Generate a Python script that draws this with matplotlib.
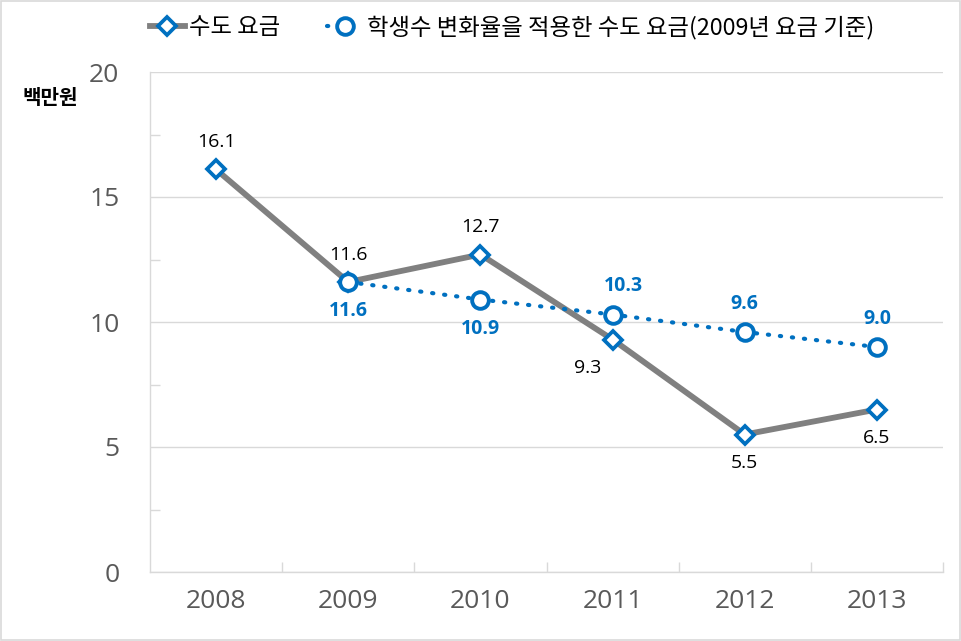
import matplotlib
matplotlib.use('Agg')
import matplotlib.pyplot as plt
from matplotlib.ticker import FixedLocator
from matplotlib.patches import Rectangle

plt.rcParams['font.family'] = ['Noto Sans CJK KR', 'DejaVu Sans']

# 데이터
years = ['2008', '2009', '2010', '2011', '2012', '2013']
water_fee = [16.1, 11.6, 12.7, 9.3, 5.5, 6.5]
adj_years = ['2009', '2010', '2011', '2012', '2013']
adj_fee = [11.6, 10.9, 10.3, 9.6, 9.0]

label1 = '수도 요금'
label2 = '학생수 변화율을 적용한 수도 요금(2009년 요금 기준)'

blue = '#0070C0'
gray = '#808080'
grid_c = '#D9D9D9'
tick_c = '#595959'
num_font = ['Open Sans', 'DejaVu Sans']

fig = plt.figure(figsize=(9.61, 6.41), dpi=100)
ax = fig.add_axes([150/961, 1-572/641, 793/961, 500/641])

x1 = [years.index(y) for y in years]
x2 = [years.index(y) for y in adj_years]

l1, = ax.plot(x1, water_fee, color=gray, lw=4.2, marker='D', ms=9.5,
              mfc='white', mec=blue, mew=2.7, zorder=3, label=label1)
l2, = ax.plot(x2, adj_fee, color=blue, lw=3, ls=(0, (0.3, 2.6)),
              dash_capstyle='round', marker='o', ms=12, mfc='white',
              mec=blue, mew=2.8, zorder=4, label=label2)

# 데이터 레이블
off1 = [(0, 13), (0, 13), (0, 13), (-18, -14), (0, -14), (0, -14)]
for x, v, (dx, dy) in zip(x1, water_fee, off1):
    ax.annotate(f'{v:.1f}', (x, v), xytext=(dx, dy), textcoords='offset points',
                ha='center', va='bottom' if dy > 0 else 'top',
                fontsize=14, color='black', family=num_font)
off2 = [(0, -14), (0, -14), (8, 13), (0, 13), (0, 13)]
for x, v, (dx, dy) in zip(x2, adj_fee, off2):
    ax.annotate(f'{v:.1f}', (x, v), xytext=(dx, dy), textcoords='offset points',
                ha='center', va='bottom' if dy > 0 else 'top',
                fontsize=14, color=blue, fontweight='bold', family=num_font)

ax.set_xlim(-0.5, 5.5)
ax.set_ylim(0, 20)
ax.set_xticks(x1)
ax.set_xticklabels(years)
ax.set_yticks([0, 5, 10, 15, 20])
ax.xaxis.set_minor_locator(FixedLocator([0.5, 1.5, 2.5, 3.5, 4.5, 5.5]))
ax.yaxis.set_minor_locator(FixedLocator([2.5, 7.5, 12.5, 17.5]))
ax.tick_params(axis='both', which='major', length=0, labelsize=19,
               labelcolor=tick_c)
ax.tick_params(axis='x', which='major', pad=12)
ax.tick_params(axis='y', which='major', pad=22)
ax.tick_params(axis='both', which='minor', direction='in', length=7,
               color=grid_c, width=1)
for lab in ax.get_xticklabels() + ax.get_yticklabels():
    lab.set_family(num_font)

ax.grid(axis='y', which='major', color=grid_c, lw=1)
for s in ['top', 'right']:
    ax.spines[s].set_visible(False)
for s in ['left', 'bottom']:
    ax.spines[s].set_color(grid_c)
    ax.spines[s].set_linewidth(1)

fig.text(50/961, 1-97/641, '백만원', ha='center', va='center',
         fontsize=14.5, fontweight='bold', color='black')

fig.legend(handles=[l1, l2], loc='center', bbox_to_anchor=(512/961, 1-27/641),
           ncol=2, frameon=False, fontsize=16.8, handlelength=1.5,
           handletextpad=0.2, columnspacing=2.0)

fig.patches.append(Rectangle((0.001, 0.001), 0.998, 0.997, transform=fig.transFigure,
                             fill=False, edgecolor=grid_c, lw=1.2))

fig.savefig('out.png', dpi=100)
